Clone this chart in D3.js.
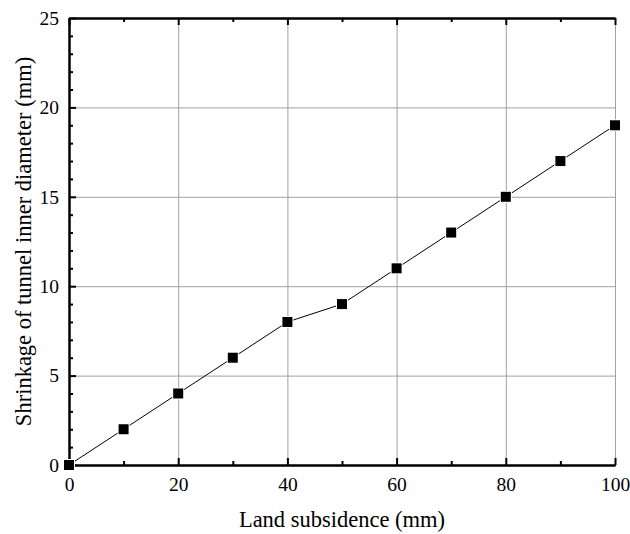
<!DOCTYPE html>
<html>
<head>
<meta charset="utf-8">
<script src="https://cdn.jsdelivr.net/npm/d3@7"></script>
<style>
  html, body { margin: 0; padding: 0; background: #fff; }
  svg { display: block; }
</style>
</head>
<body>
<svg id="chart" width="630" height="534"></svg>
<script>
// Land subsidence (mm) vs shrinkage of tunnel inner diameter (mm)
const subsidence = [0, 10, 20, 30, 40, 50, 60, 70, 80, 90, 100];
const shrinkage = [0, 2, 4, 6, 8, 9, 11, 13, 15, 17, 19];
const xMajorTicks = [0, 20, 40, 60, 80, 100];
const yMajorTicks = [0, 5, 10, 15, 20, 25];
const xMinorTicks = [10, 30, 50, 70, 90];
const yMinorTicks = [1, 2, 3, 4, 6, 7, 8, 9, 11, 12, 13, 14, 16, 17, 18, 19, 21, 22, 23, 24];
const xLabel = "Land subsidence (mm)";
const yLabel = "Shrinkage of tunnel inner diameter (mm)";

const FONT = "Liberation Serif";
const svg = d3.select("#chart");
const x = d3.scaleLinear().domain([0, 100]).range([69, 615]);
const y = d3.scaleLinear().domain([0, 25]).range([465, 18]);
const x0 = x(0), x1 = x(100), y0 = y(0), y1 = y(25);

// grid lines at major ticks (the one at x = 100 doubles as the right frame)
const grid = svg.append("g");
xMajorTicks.filter(d => d > 0).forEach(d => {
  grid.append("line").attr("x1", x(d) + 0.5).attr("x2", x(d) + 0.5).attr("y1", y0).attr("y2", y1)
    .style("stroke", "#a0a0a0").style("stroke-width", "1px");
});
yMajorTicks.filter(d => d > 0 && d < 25).forEach(d => {
  grid.append("line").attr("x1", x0).attr("x2", x1).attr("y1", y(d) + 0.5).attr("y2", y(d) + 0.5)
    .style("stroke", "#a0a0a0").style("stroke-width", "1px");
});

const major = 7, minor = 4;
function styleAxis(g) {
  g.selectAll(".tick line").style("stroke", "#000").style("stroke-width", "2px");
  g.select(".domain").style("stroke", "#000").style("stroke-width", "2px");
  g.selectAll(".tick text").style("font-family", FONT).style("font-size", "19.5px").style("fill", "#000");
}

// bottom axis: major ticks with labels, minor ticks without
svg.append("g").attr("transform", `translate(0,${y0})`)
  .call(d3.axisBottom(x).tickValues(xMajorTicks).tickSizeInner(-major).tickSizeOuter(0).tickPadding(12))
  .call(styleAxis);
svg.append("g").attr("transform", `translate(0,${y0})`)
  .call(d3.axisBottom(x).tickValues(xMinorTicks).tickSizeInner(-minor).tickSizeOuter(0).tickFormat(""))
  .call(styleAxis);

// top axis: ticks only
svg.append("g").attr("transform", `translate(0,${y1})`)
  .call(d3.axisTop(x).tickValues(xMajorTicks).tickSizeInner(-major).tickSizeOuter(0).tickFormat(""))
  .call(styleAxis);
svg.append("g").attr("transform", `translate(0,${y1})`)
  .call(d3.axisTop(x).tickValues(xMinorTicks).tickSizeInner(-minor).tickSizeOuter(0).tickFormat(""))
  .call(styleAxis);

// left axis
svg.append("g").attr("transform", `translate(${x0},0)`)
  .call(d3.axisLeft(y).tickValues(yMajorTicks).tickSizeInner(-major).tickSizeOuter(0).tickPadding(10))
  .call(styleAxis);
svg.append("g").attr("transform", `translate(${x0},0)`)
  .call(d3.axisLeft(y).tickValues(yMinorTicks).tickSizeInner(-minor).tickSizeOuter(0).tickFormat(""))
  .call(styleAxis);

// data line
const pts = subsidence.map((d, i) => [d, shrinkage[i]]);
svg.append("path").datum(pts)
  .style("fill", "none").style("stroke", "#000").style("stroke-width", "1px")
  .attr("d", d3.line().x(d => x(d[0])).y(d => y(d[1])));

// square markers with a thin white halo
const s = 10;
svg.append("g").selectAll("rect").data(pts).enter().append("rect")
  .attr("x", d => x(d[0]) - s / 2).attr("y", d => y(d[1]) - s / 2)
  .attr("width", s).attr("height", s)
  .style("fill", "#000").style("stroke", "#fff").style("stroke-width", "2px")
  .style("paint-order", "stroke");

// axis titles
svg.append("text").attr("x", (x0 + x1) / 2).attr("y", 527)
  .attr("text-anchor", "middle").style("font-family", FONT).style("font-size", "22.5px")
  .style("fill", "#000").text(xLabel);
svg.append("text").attr("transform", `translate(31,${(y0 + y1) / 2}) rotate(-90)`)
  .attr("text-anchor", "middle").style("font-family", FONT).style("font-size", "22.5px")
  .style("fill", "#000").text(yLabel);
</script>
</body>
</html>
